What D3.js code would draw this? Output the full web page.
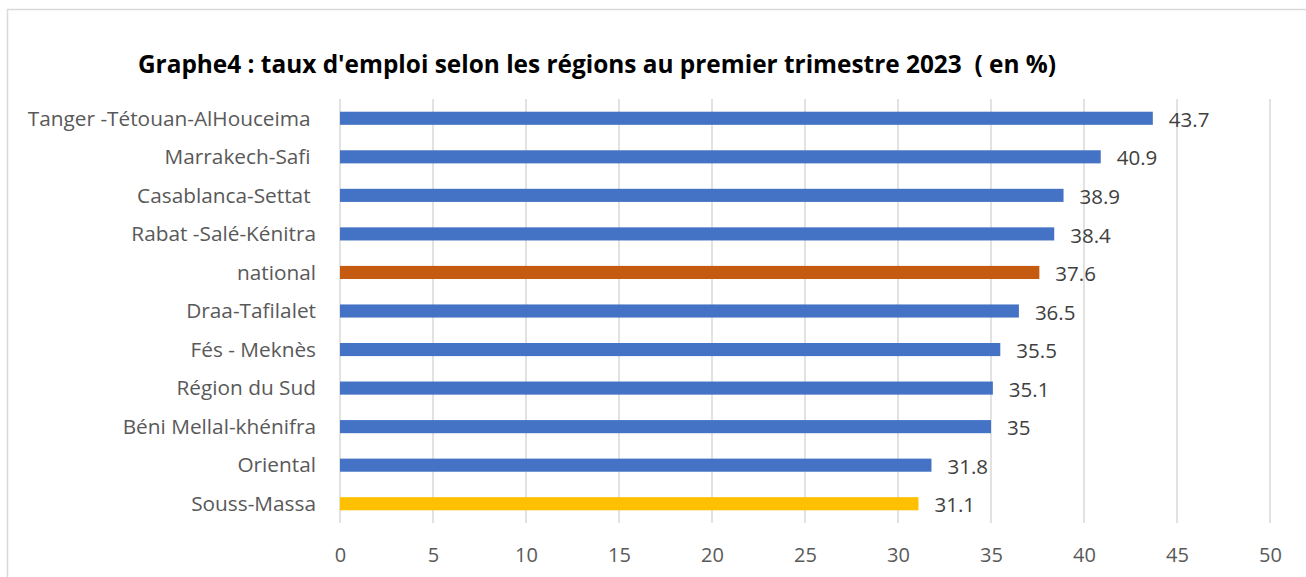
<!DOCTYPE html>
<html><head><meta charset="utf-8">
<script src="https://cdn.jsdelivr.net/npm/d3@7"></script>
<style>body{margin:0;background:#fff;}svg{display:block;}</style>
</head><body>
<svg id="c" width="1306" height="577"></svg>
<script>
const categories = ["Tanger -Tétouan-AlHouceima ","Marrakech-Safi ","Casablanca-Settat ","Rabat -Salé-Kénitra","national","Draa-Tafilalet","Fés - Meknès","Région du Sud","Béni Mellal-khénifra","Oriental","Souss-Massa"];
const values = [43.7,40.9,38.9,38.4,37.6,36.5,35.5,35.1,35,31.8,31.1];
const valueLabels = ["43.7","40.9","38.9","38.4","37.6","36.5","35.5","35.1","35","31.8","31.1"];
const barColors = ["#4472C4","#4472C4","#4472C4","#4472C4","#C55A11","#4472C4","#4472C4","#4472C4","#4472C4","#4472C4","#FFC000"];
const xTicks = [0,5,10,15,20,25,30,35,40,45,50];
const title = "Graphe4 : taux d'emploi selon les régions au premier trimestre 2023  ( en %)";

const svg = d3.select("#c");
const font = "'Open Sans', Lato, sans-serif";
svg.append("rect").attr("x",7.5).attr("y",9.5).attr("width",1310).attr("height",600)
  .attr("fill","#fff").attr("stroke","#D9D9D9").attr("stroke-width",1.5);

const x = d3.scaleLinear().domain([0,50]).range([340,1270]);
const y = d3.scaleBand().domain(categories).range([99,523]).paddingInner(0.66).paddingOuter(0.33);

const g = svg.append("g");
g.selectAll("line.grid").data(xTicks).join("line").attr("class","grid")
  .attr("x1",d=>x(d)).attr("x2",d=>x(d)).attr("y1",99).attr("y2",523)
  .attr("stroke","#D9D9D9").attr("stroke-width",1.5);

g.selectAll("rect.bar").data(values).join("rect").attr("class","bar")
  .attr("x",x(0)).attr("y",(d,i)=>y(categories[i]))
  .attr("width",d=>x(d)-x(0)).attr("height",y.bandwidth())
  .attr("fill",(d,i)=>barColors[i]);

g.selectAll("text.val").data(values).join("text").attr("class","val")
  .attr("x",d=>x(d)+16).attr("y",(d,i)=>y(categories[i])+y.bandwidth()/2+1.5)
  .attr("dy","0.35em").attr("font-family",font).attr("font-size",20.5).attr("fill","#404040")
  .text((d,i)=>valueLabels[i]);

g.selectAll("text.cat").data(categories).join("text").attr("class","cat")
  .attr("x",316).attr("y",d=>y(d)+y.bandwidth()/2).attr("dy","0.35em")
  .attr("text-anchor","end").attr("font-family",font).attr("font-size",20.8).attr("fill","#595959")
  .style("white-space","pre")
  .text(d=>d);

const xAxis = d3.axisBottom(x).tickValues(xTicks).tickSize(0).tickPadding(0);
const ax = svg.append("g").attr("transform","translate(0,555)").call(xAxis);
ax.select(".domain").remove();
ax.selectAll("text").attr("font-family",font).attr("font-size",20).attr("fill","#595959").attr("dy","0.35em");

svg.append("text").attr("x",597).attr("y",64).attr("dy","0.35em").attr("text-anchor","middle")
  .attr("font-family",font).attr("font-weight","bold").attr("font-size",24.4).attr("fill","#000")
  .style("white-space","pre")
  .text(title);
</script>
</body></html>
